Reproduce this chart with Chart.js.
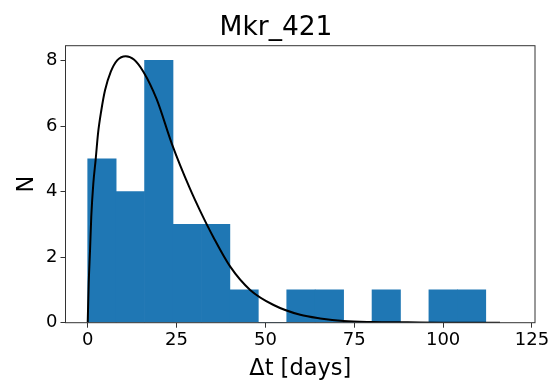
<!DOCTYPE html>
<html>
<head>
<meta charset="utf-8">
<script src="https://cdn.jsdelivr.net/npm/chart.js@4"></script>
<style>
  html, body { margin: 0; padding: 0; background: #fff; }
  #wrap { width: 552px; height: 380px; }
</style>
</head>
<body>
<div id="wrap"><canvas id="myChart" width="552" height="380"></canvas></div>
<script>
// histogram bins (width 8 days) and counts
const binCenters = [4, 12, 20, 28, 36, 44, 52, 60, 68, 76, 84, 92, 100, 108];
const binCounts = [5, 4, 8, 3, 3, 1, 0, 1, 1, 0, 1, 0, 1, 1];

// fitted curve
const curveX = [0, 0.28, 0.65, 1.0, 1.58, 2.25, 2.9, 3.83, 4.87, 6.47, 8.34, 10.7, 13.0, 15.7, 19.4, 23.7, 28.8, 31.6, 35.4, 40.1, 45.7, 52.3, 59.8, 65.4, 72, 80, 90, 100, 116];
const curveY = [0, 1.2, 2.2, 3.23, 4.25, 4.99, 5.77, 6.48, 7.09, 7.65, 8.01, 8.13, 8.03, 7.65, 6.82, 5.45, 4.08, 3.42, 2.6, 1.71, 1.0, 0.54, 0.24, 0.13, 0.05, 0.02, 0.01, 0, 0];

const xTicks = [0, 25, 50, 75, 100, 125];
const yTicks = [0, 2, 4, 6, 8];

const font = 'DejaVu Sans';

const frame = {
  id: 'frame',
  afterDatasetsDraw(chart) {
    const a = chart.chartArea;
    const c = chart.ctx;
    c.save();
    c.strokeStyle = '#333';
    c.lineWidth = 1;
    c.strokeRect(a.left, a.top, a.right - a.left, a.bottom - a.top);
    c.restore();
  }
};

const ctx = document.querySelector('#myChart').getContext('2d');

const myChart = new Chart(ctx, {
  type: 'bar',
  data: {
    datasets: [{
      type: 'line',
      data: curveX.map((x, i) => ({x: x, y: curveY[i]})),
      borderColor: '#000',
      borderWidth: 2,
      pointRadius: 0,
      cubicInterpolationMode: 'monotone',
      fill: false,
      order: 0
    }, {
      type: 'bar',
      data: binCenters.map((x, i) => ({x: x, y: binCounts[i]})),
      backgroundColor: '#1f77b4',
      borderWidth: 0,
      barPercentage: 1,
      categoryPercentage: 1,
      grouped: false,
      order: 1
    }]
  },
  options: {
    responsive: false,
    animation: false,
    events: [],
    layout: { padding: 0 },
    plugins: {
      legend: { display: false },
      tooltip: { enabled: false },
      title: {
        display: true,
        text: 'Mkr_421',
        color: '#000',
        font: { family: font, size: 26.5, weight: 'normal', lineHeight: 1.2 },
        padding: { top: 12.5, bottom: 1.4 }
      }
    },
    scales: {
      x: {
        type: 'linear',
        min: -6.25,
        max: 125.85,
        offset: false,
        grid: { offset: false, drawOnChartArea: false, drawTicks: true, tickLength: 5, color: '#333' },
        border: { display: false },
        afterBuildTicks: s => { s.ticks = xTicks.map(v => ({value: v})); },
        afterFit: s => { s.height = 57.3; s.paddingLeft = 0; s.paddingRight = 17; },
        ticks: { color: '#000', padding: 2, font: { family: font, size: 18 } },
        title: {
          display: true,
          text: 'Δt [days]',
          color: '#000',
          font: { family: font, size: 22.5, lineHeight: 1 },
          padding: 0
        }
      },
      y: {
        min: 0,
        max: 8.45,
        grid: { drawOnChartArea: false, drawTicks: true, tickLength: 5, color: '#333' },
        border: { display: false },
        afterBuildTicks: s => { s.ticks = yTicks.map(v => ({value: v})); },
        afterFit: s => { s.width = 65.5; s.paddingTop = 0; s.paddingBottom = 0; },
        ticks: { color: '#000', padding: 3, font: { family: font, size: 18 } },
        title: {
          display: true,
          text: 'N',
          color: '#000',
          font: { family: font, size: 22.5, lineHeight: 1 },
          padding: { top: 15.5, bottom: 0 }
        }
      }
    }
  },
  plugins: [frame]
});
</script>
</body>
</html>
